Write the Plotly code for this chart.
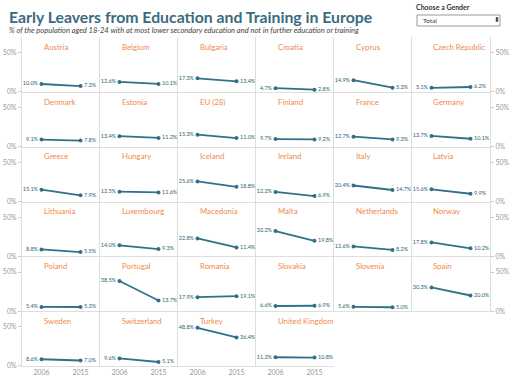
import plotly.graph_objects as go
from plotly.subplots import make_subplots

countries = ["Austria", "Belgium", "Bulgaria", "Croatia", "Cyprus", "Czech Republic",
             "Denmark", "Estonia", "EU (28)", "Finland", "France", "Germany",
             "Greece", "Hungary", "Iceland", "Ireland", "Italy", "Latvia",
             "Lithuania", "Luxembourg", "Macedonia", "Malta", "Netherlands", "Norway",
             "Poland", "Portugal", "Romania", "Slovakia", "Slovenia", "Spain",
             "Sweden", "Switzerland", "Turkey", "United Kingdom"]
v2006 = [10.0, 12.6, 17.3, 4.7, 14.9, 5.1,
         9.1, 13.4, 15.3, 9.7, 12.7, 13.7,
         15.1, 12.5, 25.6, 12.2, 20.4, 15.6,
         8.8, 14.0, 22.8, 32.2, 12.6, 17.8,
         5.4, 38.5, 17.9, 6.6, 5.6, 30.3,
         8.6, 9.6, 48.8, 11.2]
v2015 = [7.3, 10.1, 13.4, 2.8, 5.3, 6.2,
         7.8, 11.2, 11.0, 9.2, 9.3, 10.1,
         7.9, 11.6, 18.8, 6.9, 14.7, 9.9,
         5.5, 9.3, 11.4, 19.8, 8.2, 10.2,
         5.3, 13.7, 19.1, 6.9, 5.0, 20.0,
         7.0, 5.1, 36.4, 10.8]
years = [2006, 2015]
year_labels = ["2006", "2015"]
y_tickvals = [0, 50]
y_ticktext = ["0%", "50%"]

W, H = 512, 386
L, R, T, B = 22, 22, 37, 20
NR, NC = 6, 6
PW, PH = W - L - R, H - T - B

def px_x(p):
    return (p - L) / PW

def px_y(p):
    return (H - B - p) / PH

LINE = "#30718a"
LABEL = "#2f5f73"
NAME = "#f0894a"
GRID = "#dedede"
TICK = "#999999"
FONT = "Lato"

fig = make_subplots(rows=NR, cols=NC, horizontal_spacing=0, vertical_spacing=0)

for i, c in enumerate(countries):
    r = i // NC + 1
    col = i % NC + 1
    a, b = v2006[i], v2015[i]
    fig.add_trace(go.Scatter(
        x=years, y=[a, b], mode="lines+markers+text",
        text=[f"{a:.1f}%", f"{b:.1f}%"],
        textposition=["middle left", "middle right"],
        textfont=dict(size=5.5, color=LABEL, family=FONT),
        line=dict(color=LINE, width=1.8),
        marker=dict(size=4, color=LINE),
        cliponaxis=False, hoverinfo="skip", showlegend=False,
    ), row=r, col=col)
    fig.add_annotation(x=2006, y=57.5, text=c, showarrow=False,
                       xanchor="left", yanchor="middle",
                       font=dict(size=7.8, color=NAME, family=FONT),
                       row=r, col=col)

for r in range(1, NR + 1):
    for col in range(1, NC + 1):
        fig.update_xaxes(range=[2001.5, 2019.5], tickvals=years, ticktext=year_labels,
                         showgrid=False, zeroline=False, showline=True,
                         linecolor=GRID, linewidth=1, automargin=False,
                         showticklabels=(r == NR), ticks="",
                         tickfont=dict(size=7, color=TICK, family=FONT),
                         fixedrange=True, row=r, col=col)
        yk = dict(range=[0, 70], tickvals=y_tickvals, ticktext=y_ticktext,
                  showgrid=False, zeroline=False, showline=True,
                  linecolor=GRID, linewidth=1, automargin=False,
                  tickfont=dict(size=7, color=TICK, family=FONT),
                  fixedrange=True)
        if col == 1:
            yk.update(showticklabels=True, ticks="outside", ticklen=3,
                      tickcolor="#cccccc", side="left")
        elif col == NC:
            yk.update(showticklabels=True, ticks="outside", ticklen=3,
                      tickcolor="#cccccc", side="right", mirror=True)
        else:
            yk.update(showticklabels=False, ticks="")
        fig.update_yaxes(**yk, row=r, col=col)

# header texts
fig.add_annotation(xref="paper", yref="paper", x=px_x(7), y=px_y(16),
                   text="<b>Early Leavers from Education and Training in Europe</b>",
                   showarrow=False, xanchor="left", yanchor="middle",
                   font=dict(size=15.8, color="#3b6b7e", family=FONT))
fig.add_annotation(xref="paper", yref="paper", x=px_x(7), y=px_y(31),
                   text="<i>% of the population aged 18-24 with at most lower secondary education and not in further education or training</i>",
                   showarrow=False, xanchor="left", yanchor="middle",
                   font=dict(size=7.55, color="#444444", family=FONT))
fig.add_annotation(xref="paper", yref="paper", x=px_x(414), y=px_y(7.5),
                   text="<b>Choose a Gender</b>",
                   showarrow=False, xanchor="left", yanchor="middle",
                   font=dict(size=7, color="#333333", family=FONT))
fig.add_shape(type="rect", xref="paper", yref="paper",
              x0=px_x(417), x1=px_x(500), y0=px_y(26), y1=px_y(15),
              line=dict(color="#9a9a9a", width=1), fillcolor="white")
fig.add_annotation(xref="paper", yref="paper", x=px_x(421), y=px_y(20.5),
                   text="Total", showarrow=False, xanchor="left", yanchor="middle",
                   font=dict(size=6.5, color="#333333", family=FONT))
fig.add_annotation(xref="paper", yref="paper", x=px_x(497), y=px_y(20.5),
                   text="⬍", showarrow=False, xanchor="center", yanchor="middle",
                   font=dict(size=7, color="#333333", family="DejaVu Sans"))

fig.update_layout(width=W, height=H, margin=dict(l=L, r=R, t=T, b=B, autoexpand=False),
                  paper_bgcolor="white", plot_bgcolor="white",
                  font=dict(family=FONT))

fig.write_html("out.html", config={"displayModeBar": False},
               post_script="document.body.style.margin='0px';document.body.style.overflow='hidden';")
